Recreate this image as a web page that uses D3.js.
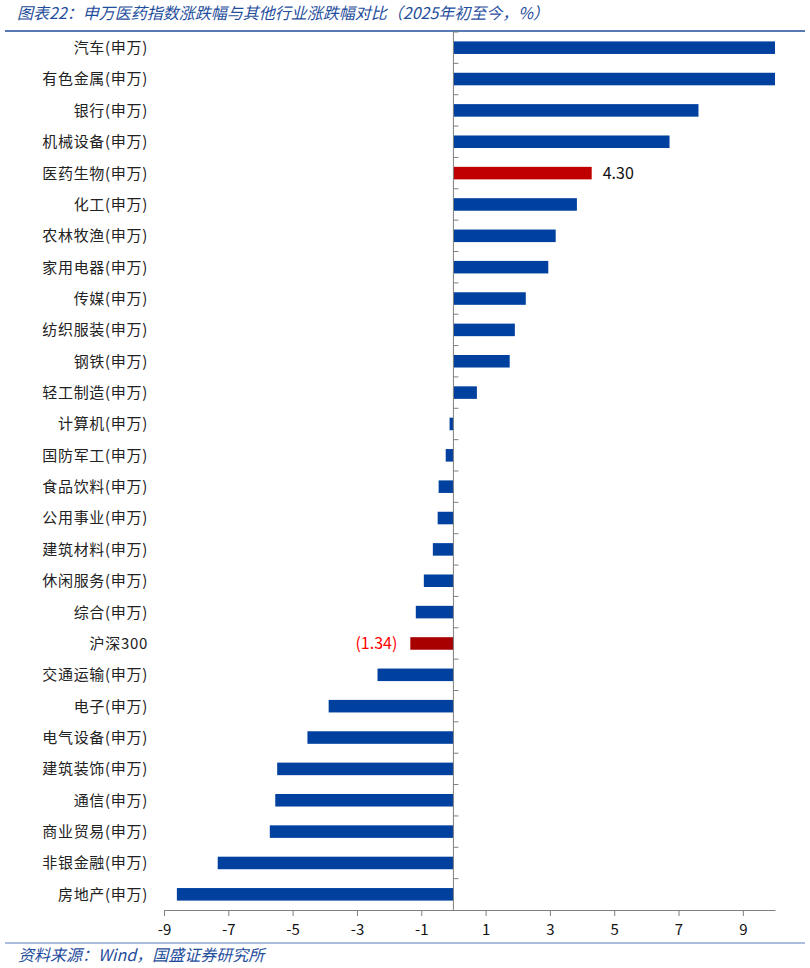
<!DOCTYPE html>
<html>
<head>
<meta charset="utf-8">
<script src="https://cdn.jsdelivr.net/npm/d3@7"></script>
<style>
  body { margin: 0; background: #fff; }
  svg text { font-family: "Noto Sans CJK SC", "DejaVu Sans", sans-serif; }
</style>
</head>
<body>
<div id="chart"></div>
<script>
// Data
var categories = ["汽车(申万)", "有色金属(申万)", "银行(申万)", "机械设备(申万)", "医药生物(申万)",
  "化工(申万)", "农林牧渔(申万)", "家用电器(申万)", "传媒(申万)", "纺织服装(申万)", "钢铁(申万)",
  "轻工制造(申万)", "计算机(申万)", "国防军工(申万)", "食品饮料(申万)", "公用事业(申万)",
  "建筑材料(申万)", "休闲服务(申万)", "综合(申万)", "沪深300", "交通运输(申万)", "电子(申万)",
  "电气设备(申万)", "建筑装饰(申万)", "通信(申万)", "商业贸易(申万)", "非银金融(申万)", "房地产(申万)"];
var values = [10.0, 10.0, 7.62, 6.72, 4.30, 3.84, 3.18, 2.95, 2.25, 1.91, 1.75, 0.73, -0.12, -0.24,
  -0.46, -0.49, -0.64, -0.92, -1.17, -1.34, -2.36, -3.88, -4.54, -5.48, -5.54, -5.71, -7.33, -8.60];
var tickValues = [-9, -7, -5, -3, -1, 1, 3, 5, 7, 9];
var highlight = { "医药生物(申万)": "#c00000", "沪深300": "#a80000" };
var dataLabels = { "医药生物(申万)": "4.30", "沪深300": "(1.34)" };

var width = 810, height = 968;
var svg = d3.select('#chart').append('svg')
  .attr('width', width)
  .attr('height', height);

// Title
svg.append('text')
  .attr('x', 17).attr('y', 19)
  .attr('font-size', 16).attr('font-style', 'italic')
  .attr('fill', '#1f4e9c')
  .text('图表22：申万医药指数涨跌幅与其他行业涨跌幅对比（2025年初至今，%）');
svg.append('line')
  .attr('x1', 5).attr('x2', 805).attr('y1', 31).attr('y2', 31)
  .attr('stroke', '#1f4e9c').attr('stroke-width', 1.5);

// Scales
var x = d3.scaleLinear().domain([-9, 10]).range([164, 775]);
var y = d3.scaleBand().domain(categories).range([32, 910])
  .paddingInner(0.6).paddingOuter(0.3);
var step = y.step();

// Bars
svg.selectAll('rect.bar')
  .data(categories)
  .enter()
  .append('rect')
  .attr('class', 'bar')
  .attr('x', function(d, i) { return x(Math.min(0, values[i])); })
  .attr('y', function(d) { return y(d); })
  .attr('width', function(d, i) { return Math.abs(x(values[i]) - x(0)); })
  .attr('height', y.bandwidth())
  .attr('fill', function(d) { return highlight[d] || '#0041a0'; });

// Category labels
svg.selectAll('text.cat')
  .data(categories)
  .enter()
  .append('text')
  .attr('class', 'cat')
  .attr('x', 148)
  .attr('y', function(d) { return y(d) + y.bandwidth() / 2; })
  .attr('dy', '0.36em')
  .attr('text-anchor', 'end')
  .attr('font-size', 15)
  .attr('letter-spacing', 0.7)
  .attr('fill', '#222')
  .text(function(d) { return d; });

// Data labels
svg.selectAll('text.val')
  .data(categories.filter(function(d) { return dataLabels[d]; }))
  .enter()
  .append('text')
  .attr('class', 'val')
  .attr('x', function(d) {
    var v = values[categories.indexOf(d)];
    return v > 0 ? x(v) + 11 : x(v) - 13;
  })
  .attr('y', function(d) { return y(d) + y.bandwidth() / 2; })
  .attr('dy', '0.36em')
  .attr('text-anchor', function(d) { return values[categories.indexOf(d)] > 0 ? 'start' : 'end'; })
  .attr('font-size', 16)
  .attr('font-family', 'DejaVu Sans')
  .attr('fill', function(d) { return values[categories.indexOf(d)] > 0 ? '#111' : '#ff0000'; })
  .text(function(d) { return dataLabels[d]; });

// Category axis at zero with ticks between bands
svg.append('line')
  .attr('x1', x(0)).attr('x2', x(0))
  .attr('y1', 32).attr('y2', 910)
  .attr('stroke', '#7f7f7f');
svg.selectAll('line.ctick')
  .data(categories)
  .enter()
  .append('line')
  .attr('class', 'ctick')
  .attr('x1', x(0)).attr('x2', x(0) + 5)
  .attr('y1', function(d) { return y(d) - step * 0.3; })
  .attr('y2', function(d) { return y(d) - step * 0.3; })
  .attr('stroke', '#7f7f7f');

// X-Axis
var xAxis = d3.axisBottom(x)
  .tickValues(tickValues)
  .tickFormat(function(d) { return String(d); })
  .tickSize(6).tickSizeOuter(0).tickPadding(8);
var gx = svg.append('g')
  .attr('transform', 'translate(0,910)')
  .call(xAxis);
gx.select('.domain').attr('stroke', '#7f7f7f');
gx.selectAll('.tick line').attr('stroke', '#7f7f7f');
gx.selectAll('.tick text')
  .attr('font-size', 15)
  .attr('font-family', 'DejaVu Sans')
  .attr('fill', '#111');

// Footer
svg.append('line')
  .attr('x1', 5).attr('x2', 805).attr('y1', 943).attr('y2', 943)
  .attr('stroke', '#5b7fbd').attr('stroke-width', 1.2);
svg.append('text')
  .attr('x', 18).attr('y', 961)
  .attr('font-size', 16).attr('font-style', 'italic')
  .attr('fill', '#1f4e9c')
  .text('资料来源：Wind，国盛证券研究所');
</script>
</body>
</html>
